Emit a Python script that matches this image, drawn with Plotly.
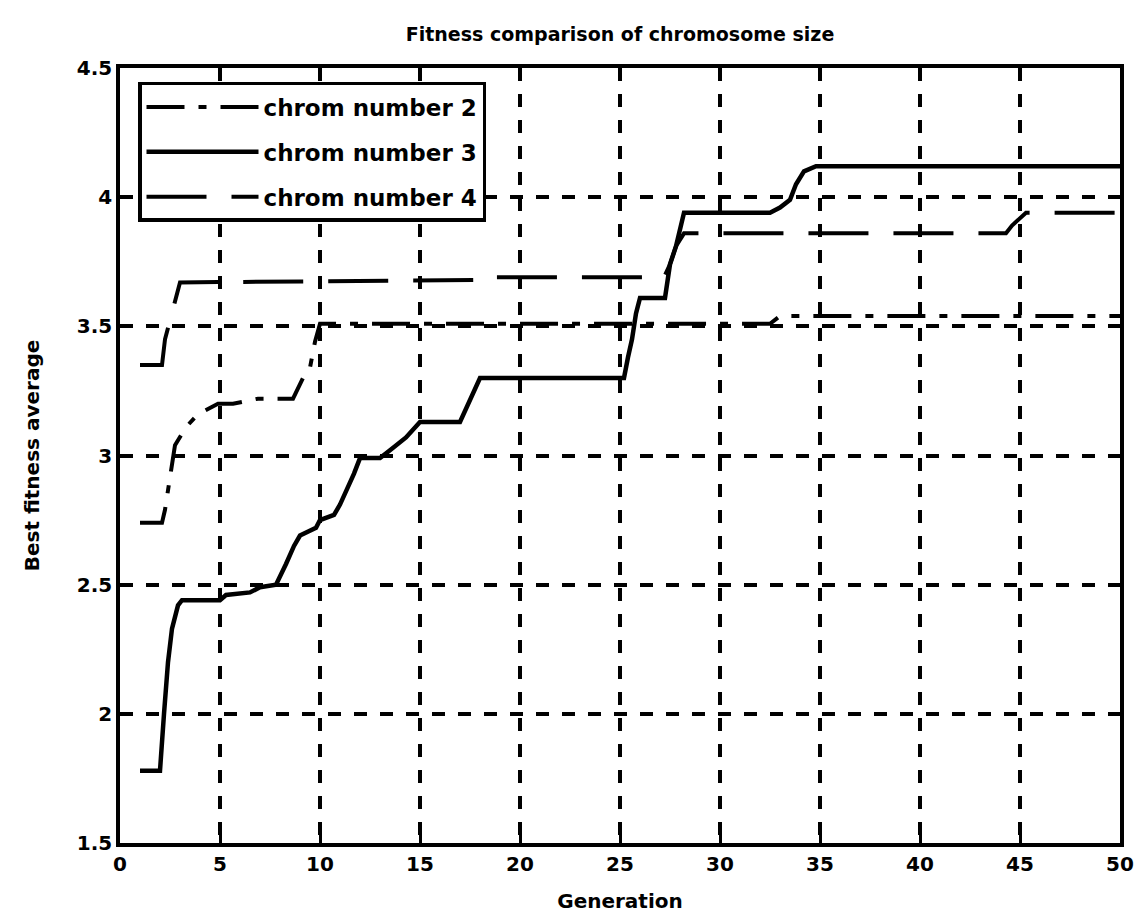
import plotly.graph_objects as go

# chrom number 2 (dash-dot)
gen2 = [1, 2.1, 2.25, 2.5, 2.75, 3.3, 3.9, 4.9, 5.65, 6.9, 8.65, 9.15, 9.5, 9.75, 10, 32.5, 33, 50]
fit2 = [2.74, 2.74, 2.79, 2.92, 3.04, 3.11, 3.16, 3.20, 3.20, 3.22, 3.22, 3.30, 3.34, 3.44, 3.51, 3.51, 3.54, 3.54]

# chrom number 3 (solid)
gen3 = [1, 2, 2.2, 2.4, 2.6, 2.9, 3.1, 5, 5.3, 6.5, 7, 7.8, 8.3, 8.7, 9, 9.8, 10, 10.7, 11, 11.3,
        11.7, 12, 13, 13.5, 14.3, 15, 17, 18, 25.2, 25.4, 25.6, 25.8, 26, 27.25, 27.5, 27.8, 28,
        28.2, 32.5, 33, 33.5, 33.8, 34.2, 34.8, 50]
fit3 = [1.78, 1.78, 2.0, 2.2, 2.33, 2.42, 2.44, 2.44, 2.46, 2.47, 2.49, 2.50, 2.58, 2.65, 2.69, 2.72,
        2.75, 2.77, 2.81, 2.86, 2.93, 2.99, 2.99, 3.02, 3.07, 3.13, 3.13, 3.30, 3.30, 3.38, 3.45,
        3.55, 3.61, 3.61, 3.74, 3.81, 3.88, 3.94, 3.94, 3.96, 3.99, 4.05, 4.10, 4.12, 4.12]

# chrom number 4 (dashed)
gen4 = [1, 2.1, 2.25, 2.5, 2.6, 3.0, 18.6, 18.7, 27.2, 27.5, 27.8, 28.2, 44.3, 44.6, 45.3, 50]
fit4 = [3.35, 3.35, 3.45, 3.52, 3.55, 3.67, 3.68, 3.69, 3.69, 3.74, 3.81, 3.86, 3.86, 3.89, 3.94, 3.94]

names = ["chrom number 2", "chrom number 3", "chrom number 4"]
x_ticks = [0, 5, 10, 15, 20, 25, 30, 35, 40, 45, 50]
y_ticks = [1.5, 2, 2.5, 3, 3.5, 4, 4.5]

FONT = "DejaVu Sans, Liberation Sans, Arial, sans-serif"

fig = go.Figure()
fig.add_trace(go.Scatter(x=gen2, y=fit2, mode="lines", name=names[0], legendgroup="a",
                         line=dict(color="black", width=4, dash="38px,14px,8px,14px")))
fig.add_trace(go.Scatter(x=gen3, y=fit3, mode="lines", name=names[1], legendgroup="b",
                         line=dict(color="black", width=4.5)))
fig.add_trace(go.Scatter(x=gen4, y=fit4, mode="lines", name=names[2], legendgroup="c",
                         line=dict(color="black", width=4, dash="60px,25px")))

axis_common = dict(
    showline=True, linecolor="black", linewidth=3.5, mirror="ticks",
    ticks="inside", ticklen=10, tickwidth=2.5, tickcolor="black",
    showgrid=True, gridcolor="black", gridwidth=3.5, griddash="13px,13px",
    zeroline=False, automargin=False,
    tickfont=dict(family=FONT, size=20, color="black", weight="bold"),
)

fig.update_layout(
    width=1127, height=905,
    paper_bgcolor="white", plot_bgcolor="white",
    margin=dict(l=112, r=15, t=60, b=70),
    title=dict(text="<b>Fitness comparison of chromosome size</b>", x=612 / 1127, xanchor="center",
               y=0.971, yanchor="middle",
               font=dict(family=FONT, size=19, color="black")),
    xaxis=dict(range=[0, 50], tickvals=x_ticks, ticktext=[str(v) for v in x_ticks],
               title=dict(text="<b>Generation</b>", font=dict(family=FONT, size=20, color="black"),
                          standoff=28),
               **axis_common),
    yaxis=dict(range=[1.5, 4.5], tickvals=y_ticks, ticktext=[str(v) for v in y_ticks],
               title=dict(text="<b>Best fitness average</b>", font=dict(family=FONT, size=20, color="black"),
                          standoff=33),
               **axis_common),
    legend=dict(x=0.018, y=0.982, xanchor="left", yanchor="top",
                bgcolor="white", bordercolor="black", borderwidth=3.5,
                font=dict(family=FONT, size=23, color="black", weight="bold"),
                itemwidth=112, tracegroupgap=12, traceorder="grouped"),
    showlegend=True,
)

fig.write_html("out.html")
